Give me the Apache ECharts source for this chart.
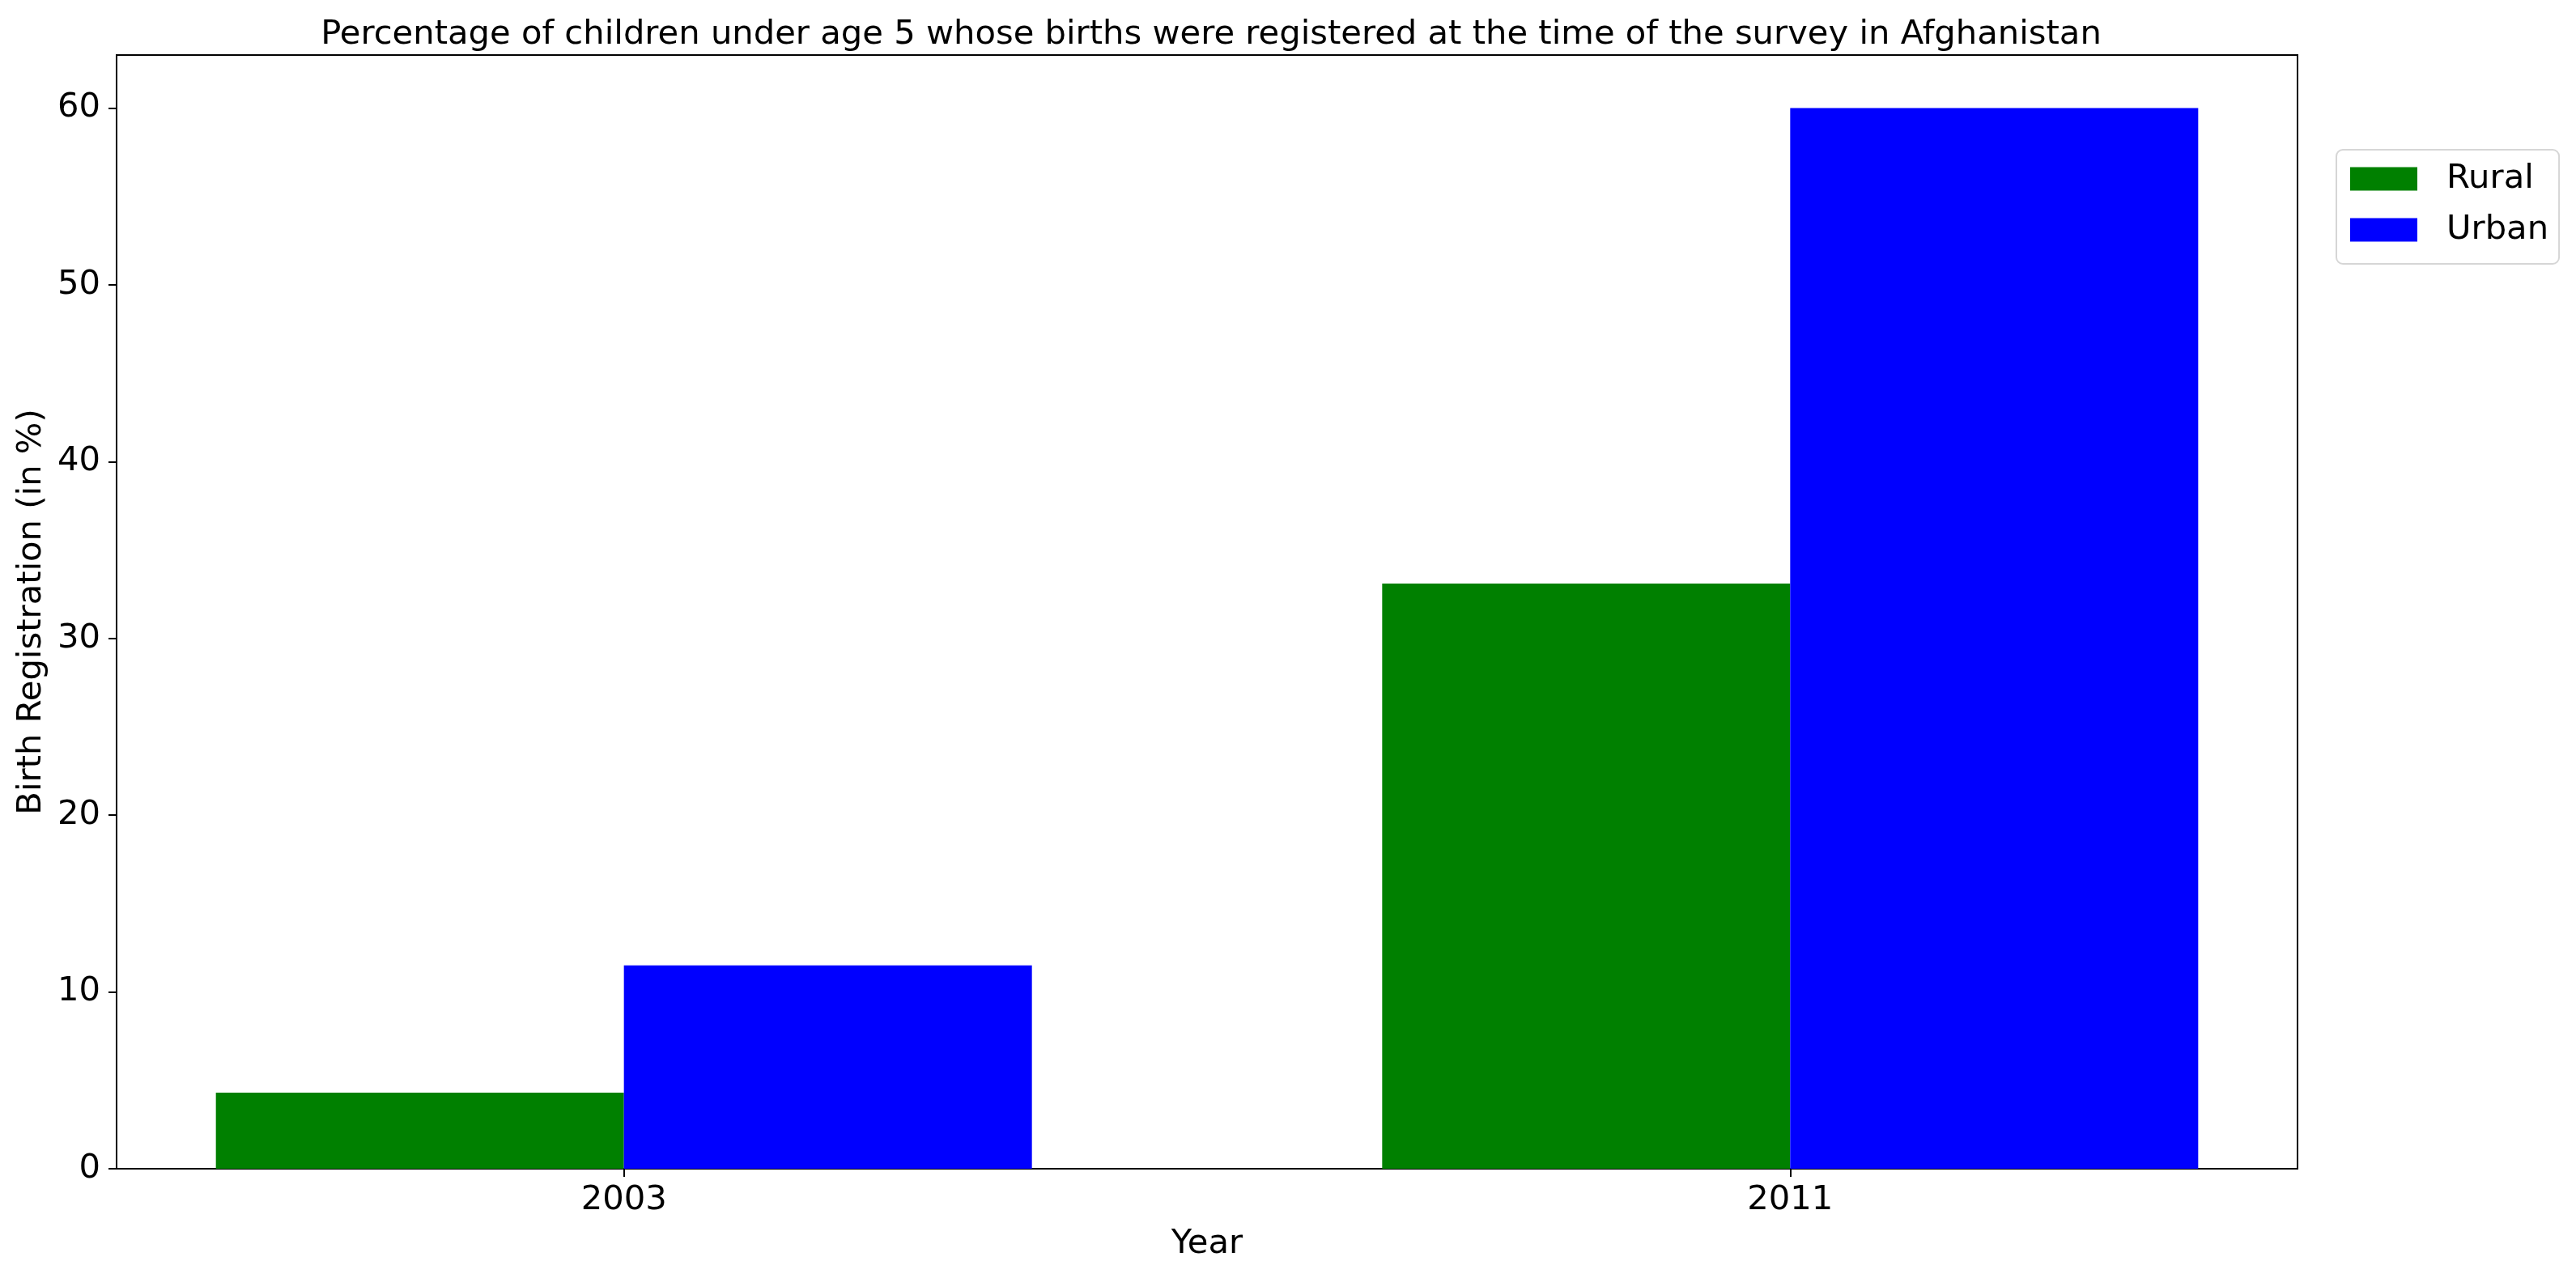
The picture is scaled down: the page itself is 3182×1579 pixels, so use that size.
<!DOCTYPE html>
<html>
<head>
<meta charset="utf-8">
<script src="https://cdn.jsdelivr.net/npm/echarts@6/dist/echarts.min.js"></script>
<style>
  html, body { margin: 0; padding: 0; background: #fff; }
  #chart { width: 3182px; height: 1579px; }
</style>
</head>
<body>
<div id="chart"></div>
<script>
    // data
    var years = ['2003', '2011'];
    var yearPos = [0, 1];
    var rural = [4.3, 33.1];
    var urban = [11.5, 60.0];
    var yTicks = [0, 10, 20, 30, 40, 50, 60];

    var font = 'DejaVu Sans';
    var fs = 41.7;
    var myChart = echarts.init(document.getElementById('chart'), null, {renderer: 'canvas'});

    function pairs(vals) {
        return yearPos.map(function (p, i) { return [p, vals[i]]; });
    }

    var option = {
        animation: false,
        backgroundColor: '#fff',
        title: {
            text: 'Percentage of children under age 5 whose births were registered at the time of the survey in Afghanistan',
            left: 1491,
            top: 17,
            textAlign: 'center',
            textStyle: {fontFamily: font, fontSize: fs, fontWeight: 'normal', color: '#000'}
        },
        legend: {
            data: ['Rural', 'Urban'],
            orient: 'vertical',
            left: 2886,
            top: 185,
            itemWidth: 83,
            itemHeight: 29,
            itemGap: 19,
            padding: [14, 13, 20, 17],
            borderColor: '#d6d6d6',
            borderWidth: 2,
            borderRadius: 8,
            icon: 'rect',
            textStyle: {fontFamily: font, fontSize: fs, color: '#000', lineHeight: 44, padding: [0, 0, 0, 31]}
        },
        grid: {
            left: 144, right: 3182 - 2838, top: 68, bottom: 1579 - 1444,
            show: true, borderColor: '#000', borderWidth: 2, backgroundColor: '#fff'
        },
        xAxis: {
            type: 'value',
            min: -0.435,
            max: 1.435,
            name: 'Year',
            nameLocation: 'middle',
            nameGap: 72,
            nameTextStyle: {fontFamily: font, fontSize: fs, color: '#000'},
            axisLine: {show: true, onZero: false, lineStyle: {color: '#000', width: 2}},
            axisTick: {show: true, length: 10, lineStyle: {color: '#000', width: 2}, customValues: yearPos},
            axisLabel: {
                customValues: yearPos,
                fontFamily: font, fontSize: fs, color: '#000', margin: 18,
                formatter: function (v) { return years[Math.round(v)]; }
            },
            splitLine: {show: false}
        },
        yAxis: {
            type: 'value',
            min: 0,
            max: 63,
            interval: 10,
            name: 'Birth Registration (in %)',
            nameLocation: 'middle',
            nameRotate: 90,
            nameGap: 84,
            nameTextStyle: {fontFamily: font, fontSize: fs, color: '#000'},
            axisLine: {show: true, onZero: false, lineStyle: {color: '#000', width: 2}},
            axisTick: {show: true, length: 10, lineStyle: {color: '#000', width: 2}, customValues: yTicks},
            axisLabel: {
                customValues: yTicks,
                fontFamily: font, fontSize: fs, color: '#000', margin: 20
            },
            splitLine: {show: false}
        },
        series: [
            {
                name: 'Rural',
                type: 'bar',
                data: pairs(rural),
                barWidth: 504,
                barGap: '0%',
                itemStyle: {color: '#008000'}
            },
            {
                name: 'Urban',
                type: 'bar',
                data: pairs(urban),
                barWidth: 504,
                barGap: '0%',
                itemStyle: {color: '#0000ff'}
            }
        ]
    };
    myChart.setOption(option);
</script>
</body>
</html>
